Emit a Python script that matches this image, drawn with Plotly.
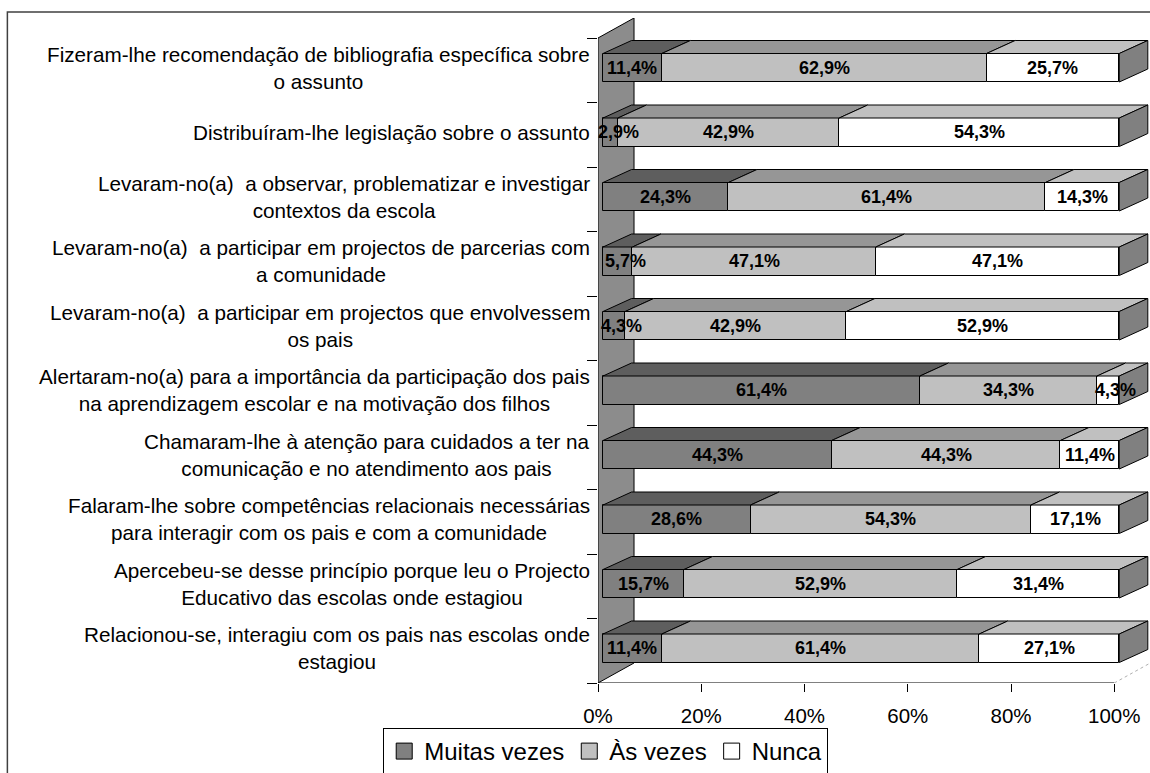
import plotly.graph_objects as go

# ---------------- data ----------------
categories = [
    "Fizeram-lhe recomendação de bibliografia específica sobre<br>o assunto",
    "Distribuíram-lhe legislação sobre o assunto",
    "Levaram-no(a)\u00a0 a observar, problematizar e investigar<br>contextos da escola",
    "Levaram-no(a)\u00a0 a participar em projectos de parcerias com<br>a comunidade",
    "Levaram-no(a)\u00a0 a participar em projectos que envolvessem<br>os pais",
    "Alertaram-no(a) para a importância da participação dos pais<br>na aprendizagem escolar e na motivação dos filhos",
    "Chamaram-lhe à atenção para cuidados a ter na<br>comunicação e no atendimento aos pais",
    "Falaram-lhe sobre competências relacionais necessárias<br>para interagir com os pais e com a comunidade",
    "Apercebeu-se desse princípio porque leu o Projecto<br>Educativo das escolas onde estagiou",
    "Relacionou-se, interagiu com os pais nas escolas onde<br>estagiou",
]
series_names = ["Muitas vezes", "Às vezes", "Nunca"]
muitas_vezes = [11.4, 2.9, 24.3, 5.7, 4.3, 61.4, 44.3, 28.6, 15.7, 11.4]
as_vezes = [62.9, 42.9, 61.4, 47.1, 42.9, 34.3, 44.3, 54.3, 52.9, 61.4]
nunca = [25.7, 54.3, 14.3, 47.1, 52.9, 4.3, 11.4, 17.1, 31.4, 27.1]
x_tick_values = [0, 20, 40, 60, 80, 100]

# ---------------- style ----------------
FRONT = ["#808080", "#c0c0c0", "#ffffff"]
TOP = ["#5e5e5e", "#969696", "#c0c0c0"]
SIDE = "#808080"
WALL = "#8c8c8c"
FONT = "Liberation Sans, Arial, sans-serif"

PX_PER_PCT = 5.16
PX_PER_CAT = 64.5
L_PX, T_PX, FLOOR_PX = 598.3, 18.0, 683.0
W, H = 1150, 773

BAR_X0 = 5.0 / PX_PER_PCT          # bars set back from floor front
BAR_DY = 2.5 / PX_PER_CAT
BAR_H = 28.5 / PX_PER_CAT
DEPTH_X = 28.5 / PX_PER_PCT
DEPTH_Y = 13.0 / PX_PER_CAT
WALL_DX = 36.0 / PX_PER_PCT
WALL_DY = 20.0 / PX_PER_CAT

n = len(categories)
ypos = [n - 1 - i for i in range(n)]
series = [muitas_vezes, as_vezes, nunca]
totals = [sum(v[i] for v in series) for i in range(n)]
norm = [[s[i] / totals[i] * 100 for i in range(n)] for s in series]

fig = go.Figure()

bases = [0.0] * n
top_polys = []
label_annots = []
for k, name in enumerate(series_names):
    widths = norm[k]
    b = list(bases)
    fig.add_trace(go.Bar(
        name=name, orientation="h",
        x=widths, base=[v + BAR_X0 for v in b],
        y=[p + BAR_DY for p in ypos], width=BAR_H,
        marker=dict(color=FRONT[k], line=dict(color="black", width=1)),
        hoverinfo="skip", showlegend=False,
    ))
    xs, ys = [], []
    for i in range(n):
        x0 = b[i] + BAR_X0
        x1 = x0 + widths[i]
        yt = ypos[i] + BAR_DY + BAR_H / 2
        xs += [x0, x1, x1 + DEPTH_X, x0 + DEPTH_X, x0, None]
        ys += [yt, yt, yt + DEPTH_Y, yt + DEPTH_Y, yt, None]
        cx = x0 + widths[i] / 2 + (1.5 if widths[i] < 8 else 0)
        label_annots.append(dict(
            x=cx, y=ypos[i] + BAR_DY, xref="x", yref="y",
            text="<b>%s%%</b>" % ("%.1f" % series[k][i]).replace(".", ","),
            showarrow=False, font=dict(family=FONT, size=18, color="black"),
            xanchor="center", yanchor="middle",
        ))
    top_polys.append((xs, ys, TOP[k]))
    bases = [bases[i] + widths[i] for i in range(n)]

for xs, ys, col in top_polys:
    fig.add_trace(go.Scatter(
        x=xs, y=ys, mode="lines", fill="toself", fillcolor=col,
        line=dict(color="black", width=1), showlegend=False, hoverinfo="skip",
    ))

# right side faces
sx, sy = [], []
for i in range(n):
    xr = bases[i] + BAR_X0
    yb = ypos[i] + BAR_DY - BAR_H / 2
    yt = ypos[i] + BAR_DY + BAR_H / 2
    sx += [xr, xr + DEPTH_X, xr + DEPTH_X, xr, xr, None]
    sy += [yb, yb + DEPTH_Y, yt + DEPTH_Y, yt, yb, None]
fig.add_trace(go.Scatter(
    x=sx, y=sy, mode="lines", fill="toself", fillcolor=SIDE,
    line=dict(color="black", width=1), showlegend=False, hoverinfo="skip",
))

# legend entries (square swatches)
for k, name in enumerate(series_names):
    fig.add_trace(go.Scatter(
        x=[None], y=[None], mode="markers", name=name,
        marker=dict(symbol="square", size=16, color=FRONT[k],
                    line=dict(color="black", width=1)),
        hoverinfo="skip",
    ))

ymin, ymax = -0.5, n - 0.5
x_range_max = (W - L_PX) / PX_PER_PCT
y_range_max = ymax + WALL_DY

shapes = [
    # side wall
    dict(type="path", xref="x", yref="y", layer="below",
         path="M 0 %f L %f %f L %f %f L 0 %f Z" % (
             ymin, WALL_DX, ymin + WALL_DY, WALL_DX, ymax + WALL_DY, ymax),
         fillcolor=WALL, line=dict(color="black", width=1)),
    # floor front edge
    dict(type="line", xref="x", yref="y", x0=0, x1=100, y0=ymin, y1=ymin,
         line=dict(color="black", width=1)),
    # floor right edge
    dict(type="line", xref="x", yref="y", x0=100, x1=100 + WALL_DX,
         y0=ymin, y1=ymin + WALL_DY,
         line=dict(color="#b0b0b0", width=1, dash="dot")),
]

plot_w = W - L_PX
plot_h = FLOOR_PX - T_PX
def px2paper_x(px):
    return (px - L_PX) / plot_w
def px2paper_y(py):
    return (FLOOR_PX - py) / plot_h

# outer frame
shapes.append(dict(type="rect", xref="paper", yref="paper",
                   x0=px2paper_x(8), x1=px2paper_x(W + 20),
                   y0=px2paper_y(H + 20), y1=px2paper_y(12),
                   line=dict(color="#404040", width=1.5), layer="below"))

annots = list(label_annots)
for i, c in enumerate(categories):
    annots.append(dict(
        x=0, xref="paper", xshift=-6, y=ypos[i] + BAR_DY, yref="y",
        text=c, showarrow=False, align="center", xanchor="right", yanchor="middle",
        font=dict(family=FONT, size=20.7, color="black"),
    ))

fig.update_layout(
    width=W, height=H,
    margin=dict(l=L_PX, r=0, t=T_PX, b=H - FLOOR_PX, autoexpand=False),
    paper_bgcolor="white", plot_bgcolor="white",
    barmode="overlay",
    bargap=0,
    font=dict(family=FONT, color="black"),
    xaxis=dict(range=[0, x_range_max], tickvals=x_tick_values,
               ticktext=["%d%%" % v for v in x_tick_values],
               ticks="outside", ticklen=8, tickcolor="black",
               showgrid=False, zeroline=False, showline=False,
               tickfont=dict(family=FONT, size=20.5), ticklabelstandoff=6,
               fixedrange=True),
    yaxis=dict(range=[ymin, y_range_max],
               tickvals=[v - 0.5 for v in range(n + 1)],
               ticks="outside", ticklen=10, tickcolor="black",
               showticklabels=False, showgrid=False, zeroline=False,
               showline=False, fixedrange=True),
    legend=dict(orientation="h", x=px2paper_x(606), xanchor="center",
                y=px2paper_y(728), yanchor="top",
                bordercolor="black", borderwidth=1, bgcolor="white",
                font=dict(family=FONT, size=24, color="black"),
                traceorder="normal", itemclick=False, itemdoubleclick=False,
                itemwidth=30),
    shapes=shapes,
    annotations=annots,
    showlegend=True,
)

fig.write_html("out.html")
